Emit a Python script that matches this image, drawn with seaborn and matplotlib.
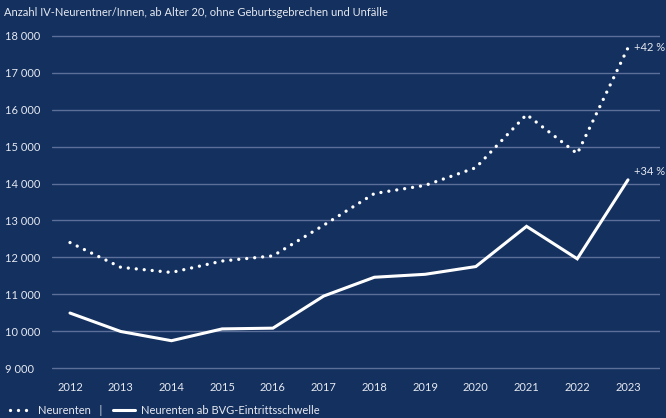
import matplotlib
matplotlib.use("Agg")
import matplotlib.pyplot as plt
import seaborn as sns
import pandas as pd
from matplotlib.lines import Line2D

years = [2012, 2013, 2014, 2015, 2016, 2017, 2018, 2019, 2020, 2021, 2022, 2023]
neurenten = [12400, 11730, 11590, 11900, 12040, 12870, 13730, 13950, 14430, 15870, 14810, 17680]
neurenten_bvg = [10490, 9990, 9740, 10060, 10080, 10950, 11460, 11540, 11750, 12840, 11960, 14100]
y_ticks = [9000, 10000, 11000, 12000, 13000, 14000, 15000, 16000, 17000, 18000]
y_tick_labels = ["9 000", "10 000", "11 000", "12 000", "13 000", "14 000",
                 "15 000", "16 000", "17 000", "18 000"]
title = "Anzahl IV-Neurentner/Innen, ab Alter 20, ohne Geburtsgebrechen und Unfälle"
label_a = "Neurenten"
label_b = "Neurenten ab BVG-Eintrittsschwelle"
growth_a = "+42 %"
growth_b = "+34 %"

BG = "#13305f"
GRID = "#5b6f98"
TXT = "#e6e9f0"

sns.set_theme(style="dark")
plt.rcParams["font.family"] = ["Lato", "DejaVu Sans"]

fig = plt.figure(figsize=(6.66, 4.18), dpi=100)
fig.patch.set_facecolor(BG)
W, H = 666, 418
ax = fig.add_axes([52 / W, 1 - 369.85 / H, (660 - 52) / W, (369.85 - 34.15) / H])
ax.set_facecolor(BG)

df = pd.DataFrame({"Jahr": years, "a": neurenten, "b": neurenten_bvg})
sns.lineplot(data=df, x="Jahr", y="a", ax=ax, color="white", linewidth=2.4,
             linestyle=(0, (0.001, 2.4)), dash_capstyle="round")
sns.lineplot(data=df, x="Jahr", y="b", ax=ax, color="white", linewidth=2.2,
             solid_joinstyle="miter")

ax.set_xlim(2012 - 18 / 50.7, 2023 + 32 / 50.7)
ax.set_ylim(8950, 18050)
ax.set_yticks(y_ticks)
ax.set_yticklabels(y_tick_labels)
ax.set_xticks(years)
ax.set_xticklabels([str(y) for y in years])
ax.set_xlabel("")
ax.set_ylabel("")
ax.grid(axis="y", color=GRID, linewidth=1.0)
ax.grid(axis="x", visible=False)
for s in ax.spines.values():
    s.set_visible(False)
ax.tick_params(axis="y", length=0, pad=34, labelsize=8, labelcolor=TXT)
for t in ax.get_yticklabels():
    t.set_horizontalalignment("left")
ax.tick_params(axis="x", length=0, pad=9, labelsize=8, labelcolor=TXT)

ax.annotate(growth_a, (years[-1], neurenten[-1]), xytext=(4.5, 0), textcoords="offset points",
            va="center", ha="left", color=TXT, fontsize=8)
ax.annotate(growth_b, (years[-1], neurenten_bvg[-1]), xytext=(4.5, 6), textcoords="offset points",
            va="center", ha="left", color=TXT, fontsize=8)

fig.text(4 / W, 1 - 12 / H, title, va="center", ha="left", color=TXT, fontsize=8)

handles = [
    Line2D([], [], color="white", linewidth=2.4, linestyle=(0, (0.001, 2.4)), dash_capstyle="round"),
    Line2D([], [], color="white", linewidth=2.2),
]
leg = fig.legend(handles, [label_a + "   |", label_b], loc="center left",
                 bbox_to_anchor=(0 / W, 1 - 410 / H), ncol=2, frameon=False,
                 fontsize=8, handlelength=2.0, handletextpad=0.5, columnspacing=1.0,
                 labelcolor=TXT)

fig.savefig("out.png", dpi=100, facecolor=BG)
